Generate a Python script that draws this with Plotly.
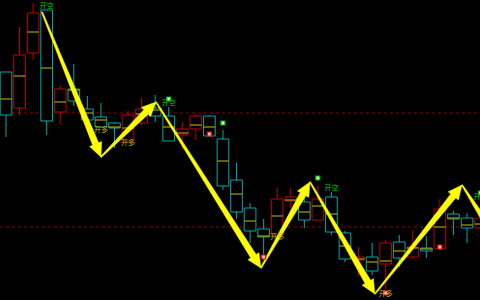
import plotly.graph_objects as go
import numpy as np

# ---- data (price units, arbitrary scale) ----
idx = list(range(36))
opens  = [228, 192, 247, 290, 188, 211, 191, 183, 177, 159, 177, 192, 184, 165, 171, 184, 161, 120, 92, 71, 65, 99, 98, 80, 103, 67, 40, 43, 36, 58, 43, 52, 51, 86, 82, 72]
closes = [185, 245, 287, 179, 211, 199, 180, 173, 172, 185, 191, 184, 159, 171, 184, 164, 114, 88, 69, 63, 101, 103, 80, 101, 68, 41, 43, 29, 57, 42, 53, 49, 91, 81, 72, 82]
highs  = [228, 273, 297, 290, 215, 236, 204, 197, 178, 189, 202, 205, 193, 178, 186, 185, 170, 137, 97, 81, 112, 112, 103, 115, 108, 69, 53, 57, 60, 65, 70, 64, 101, 89, 87, 85]
lows   = [163, 185, 240, 165, 176, 194, 178, 172, 152, 157, 175, 178, 159, 150, 160, 163, 110, 81, 57, 40, 65, 92, 72, 80, 65, 38, 24, 25, 6, 33, 41, 42, 50, 65, 57, 68]
mids   = [201, 224, 268, 232, 198, 210, 187, 180, 173, 172, 186, 190, 173, 167, 175, 173, 139, 106, 79, 64, 84, 100, 88, 94, 86, 54, 41, 38, 39, 49, 52, 51, 73, 82, 75, 76]

level_lines = [187, 73]

pivot_x = [2.65, 7.0, 11.06, 18.8, 22.42, 27.2, 33.63, 36.4]
pivot_y = [288, 143, 198, 32, 118, 6, 115, 56]

long_x = [7, 9, 20, 28]
long_y = [170, 157, 63, 6]
short_x = [3, 12, 24, 35]
short_y = [294, 197, 112, 103]
long_label = "开多"
short_label = "开空"

buy_pts_x = [15, 19, 28, 32]
buy_pts_y = [166, 43, 7, 53]
sell_pts_x = [12, 16, 23, 35]
sell_pts_y = [201, 177, 122, 107]

UP = "#c00000"
DOWN = "#00a8a8"

# ---- axes geometry ----
W, H = 480, 300
x0, x1 = -0.4425, 34.956
y0, y1 = 0, 300
sx = W / (x1 - x0)
sy = H / (y1 - y0)

fig = go.Figure()

# wicks
for col, up in ((UP, True), (DOWN, False)):
    wx, wy = [], []
    for i, o, c, h, l in zip(idx, opens, closes, highs, lows):
        if (c >= o) != up:
            continue
        top, bot = max(o, c), min(o, c)
        if h > top:
            wx += [i, i, None]; wy += [top, h, None]
        if l < bot:
            wx += [i, i, None]; wy += [bot, l, None]
    fig.add_trace(go.Scatter(x=wx, y=wy, mode="lines", line=dict(color=col, width=1),
                             hoverinfo="skip", showlegend=False))

# hollow bodies
body_base = [min(o, c) for o, c in zip(opens, closes)]
body_h = [max(abs(c - o), 1) for o, c in zip(opens, closes)]
body_col = [UP if c >= o else DOWN for o, c in zip(opens, closes)]
fig.add_trace(go.Bar(x=idx, y=body_h, base=body_base, width=0.86,
                     marker=dict(color="#000000", line=dict(color=body_col, width=1)),
                     hoverinfo="skip", showlegend=False))

# yellow in-body lines
mx, my = [], []
for i, m in zip(idx, mids):
    mx += [i - 0.42, i + 0.42, None]
    my += [m, m, None]
fig.add_trace(go.Scatter(x=mx, y=my, mode="lines",
                         line=dict(color="#c8c000", width=1),
                         hoverinfo="skip", showlegend=False))

# tapered yellow arrows, built in pixel space then converted to data
def to_px(x, y):
    return (x - x0) * sx, (y1 - y) * sy

def to_data(px, py):
    return px / sx + x0, y1 - py / sy

for k in range(len(pivot_x) - 1):
    ax_, ay_ = to_px(pivot_x[k], pivot_y[k])
    bx_, by_ = to_px(pivot_x[k + 1], pivot_y[k + 1])
    d = np.array([bx_ - ax_, by_ - ay_])
    L = np.hypot(*d)
    u = d / L
    n = np.array([-u[1], u[0]])
    head_len = 14.0
    head_w = 6.5
    w0, w1 = 0.6, 3.2
    A = np.array([ax_, ay_])
    B = A + u * (L - head_len)
    T = A + u * L
    pts = [A + n * w0, B + n * w1, B + n * head_w, T,
           B - n * head_w, B - n * w1, A - n * w0, A + n * w0]
    px = [to_data(p[0], p[1])[0] for p in pts]
    py = [to_data(p[0], p[1])[1] for p in pts]
    fig.add_trace(go.Scatter(x=px, y=py, mode="lines", fill="toself",
                             fillcolor="#ffff00", line=dict(color="#ffff00", width=0.5),
                             hoverinfo="skip", showlegend=False))

# signal markers
fig.add_trace(go.Scatter(x=sell_pts_x, y=sell_pts_y, mode="markers",
                         marker=dict(symbol="square", size=4, color="#c8ffc8",
                                     line=dict(color="#00b000", width=1.2)),
                         hoverinfo="skip", showlegend=False))
fig.add_trace(go.Scatter(x=buy_pts_x, y=buy_pts_y, mode="markers",
                         marker=dict(symbol="square", size=4, color="#ffc8c8",
                                     line=dict(color="#ff0000", width=1.2)),
                         hoverinfo="skip", showlegend=False))

# labels
fig.add_trace(go.Scatter(x=long_x, y=long_y, mode="text", text=[long_label] * len(long_x),
                         textfont=dict(family="Noto Sans CJK SC", size=7, color="#b8b800"),
                         hoverinfo="skip", showlegend=False))
fig.add_trace(go.Scatter(x=short_x, y=short_y, mode="text", text=[short_label] * len(short_x),
                         textfont=dict(family="Noto Sans CJK SC", size=7, color="#00c000"),
                         hoverinfo="skip", showlegend=False))

for lv in level_lines:
    fig.add_shape(type="line", xref="paper", x0=0, x1=1, yref="y", y0=lv, y1=lv,
                  line=dict(color="#900000", width=1, dash="dot"), layer="below")

fig.update_layout(
    width=W, height=H, margin=dict(l=0, r=0, t=0, b=0),
    paper_bgcolor="#000000", plot_bgcolor="#000000",
    xaxis=dict(range=[x0, x1], visible=False, fixedrange=True),
    yaxis=dict(range=[y0, y1], visible=False, fixedrange=True),
    showlegend=False,
)

fig.write_html("out.html", config={"displayModeBar": False})
